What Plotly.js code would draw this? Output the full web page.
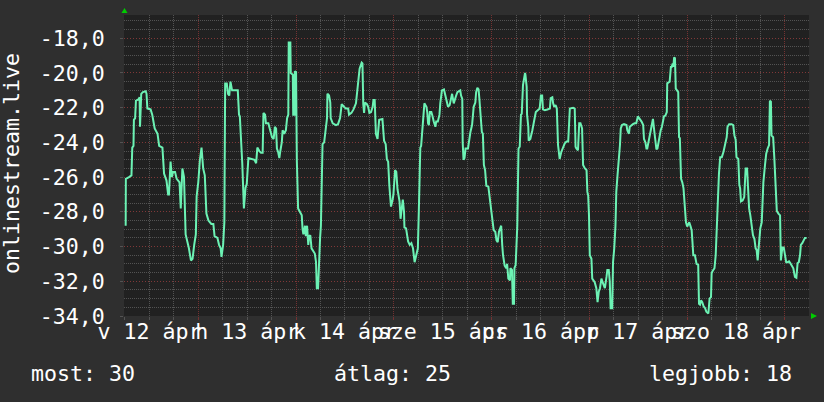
<!DOCTYPE html>
<html>
<head>
<meta charset="utf-8">
<script src="https://cdn.plot.ly/plotly-3.0.1.min.js"></script>
<style>
html,body{margin:0;padding:0;background:#2f2f2f;}
#chart{width:824px;height:402px;}
</style>
</head>
<body>
<div id="chart"></div>
<script>
// hours relative to midnight 12->13 April
const hours = [
-17.82,-17.78,-17.0,-16.4,-16.2,-15.9,-15.8,-15.5,-15.3,-14.6,
-14.4,-14.3,-14.0,-13.6,-12.9,-12.7,-12.5,-11.7,-11.3,-10.7,
-10.0,-9.6,-8.8,-8.4,-7.8,-7.4,-7.2,-6.8,-6.5,-6.2,
-5.7,-5.3,-4.6,-4.3,-3.9,-3.5,-3.1,-2.3,-1.8,-1.4,
-1.0,-0.6,-0.4,0.0,0.4,0.8,1.2,1.6,2.0,2.5,
3.2,3.7,4.0,4.7,5.1,5.5,5.7,6.1,6.4,6.6,
7.0,7.3,7.6,7.9,8.3,9.7,10.0,10.2,10.8,11.2,
11.6,11.9,12.3,13.8,14.2,14.5,15.0,
15.4,15.8,16.0,16.4,16.6,17.2,17.7,18.1,18.5,18.8,
19.1,19.3,19.6,19.9,20.1,20.5,20.7,21.1,21.5,21.8,
22.1,22.2,22.6,22.7,23.2,23.3,23.6,23.7,24.0,24.1,
24.2,24.5,25.0,25.4,25.6,25.8,26.2,26.4,26.7,27.0,
27.2,27.5,27.8,28.3,28.6,28.9,29.1,29.4,29.7,29.9,
30.1,30.3,30.5,30.9,31.3,31.6,31.7,32.1,32.4,32.5,
33.0,33.8,34.3,34.8,35.2,35.7,36.2,36.8,37.0,37.6,
38.1,38.7,38.9,39.3,39.6,40.1,40.3,40.5,40.7,40.9,
41.4,41.7,42.0,42.4,42.8,43.0,43.3,43.6,44.0,44.4,
45.2,45.6,46.0,46.3,46.6,46.9,47.3,47.7,47.9,48.3,
48.6,48.9,
49.4,49.65,50.0,50.2,50.5,50.6,51.0,51.5,51.9,52.3,
52.7,53.1,53.5,53.9,54.15,54.5,54.7,54.9,55.1,55.4,
55.5,56.0,56.2,56.4,56.6,56.85,57.2,57.4,57.6,57.8,
58.2,58.4,58.8,59.2,59.4,59.8,60.3,60.6,60.9,61.3,
61.7,62.1,62.3,62.7,62.9,63.3,63.6,64.0,64.3,64.5,
64.8,64.9,65.1,65.35,65.6,66.2,66.4,66.8,67.2,67.4,
67.6,68.0,68.2,68.5,68.8,69.0,69.3,69.6,69.85,70.1,
70.4,70.7,71.2,71.5,71.9,72.1,72.5,72.9,73.2,73.5,
73.8,74.1,74.35,74.6,74.8,75.2,75.6,75.8,76.1,76.5,
76.6,77.0,77.2,77.5,77.6,77.9,78.1,78.3,78.6,78.9,
79.2,79.4,79.7,79.9,80.2,80.3,80.6,80.7,81.0,81.1,
81.5,82.0,82.3,82.6,
82.85,83.25,83.8,84.1,84.4,84.6,85.05,85.7,86.3,86.5,
86.9,87.1,87.35,87.7,88.0,88.3,88.7,89.1,89.55,89.95,
90.4,90.8,91.2,92.0,92.4,92.6,92.8,93.2,93.5,93.8,
94.2,94.45,94.9,95.3,95.5,95.7,95.9,96.1,96.5,96.7,
97.3,97.7,98.0,98.3,98.6,98.95,99.4,99.8,100.2,100.4,
100.75,101.0,101.2,101.6,101.8,102.1,102.4,102.6,102.9,103.2,
103.5,103.7,104.0,104.5,105.1,105.3,105.7,105.9,106.3,106.7,
107.1,107.5,107.9,108.4,108.8,109.2,109.4,109.75,110.0,110.2,
110.6,110.8,111.05,111.4,111.6,111.9,112.2,112.45,112.7,113.0,
113.3,113.5,113.8,114.1,114.3,114.65,115.0,115.1,115.5,115.7,
116.0,116.2,
116.45,116.6,116.8,117.0,117.2,117.4,117.8,118.0,118.2,118.5,
118.8,119.1,119.5,119.7,120.0,120.3,120.5,120.85,121.1,121.3,
121.5,121.9,122.3,122.7,122.9,123.15,123.4,123.7,124.05,124.4,
124.7,125.2,125.5,125.85,126.0,126.25,126.7,127.0,127.2,127.5,
127.8,128.1,128.5,128.9,129.1,129.45,129.7,129.9,130.3,130.9,
131.3,131.6,131.9,132.1,132.55,132.8,133.0,133.2,133.6,134.0,
134.35,134.7,134.9,135.2,135.5,135.8,136.15,136.5,136.8,137.05,
137.3,137.6,137.95,138.3,138.7,139.1,139.4,139.75,140.1,140.3,
140.55,140.7,141.1,141.4,141.7,142.0,142.4,142.8,143.0,143.35,
143.7,144.0,144.3,144.65,145.0,145.3,145.6,146.05,146.45,146.8,
147.1,147.4,147.7,147.9,148.25,148.6,148.9,149.3
];
const values = [
-28.8,-26.1,-26.0,-25.9,-24.3,-24.2,-22.7,-22.6,-21.6,-21.5,
-21.4,-23.1,-21.2,-21.1,-21.05,-21.2,-22.05,-22.1,-22.4,-23.2,
-23.5,-24.2,-24.3,-25.8,-26.2,-27.0,-27.0,-25.1,-26.0,-25.7,
-25.7,-26.1,-26.3,-27.8,-25.5,-26.0,-29.3,-30.1,-30.8,-30.7,
-29.9,-29.3,-27.1,-26.3,-25.0,-24.3,-25.5,-25.9,-28.1,-28.5,
-28.7,-28.7,-29.4,-29.5,-29.9,-30.1,-30.6,-29.9,-28.6,-20.6,
-20.6,-21.2,-21.3,-20.5,-21.0,-21.0,-22.4,-22.5,-25.2,-27.8,
-26.6,-26.4,-24.9,-25.0,-25.2,-24.3,-24.5,
-24.6,-24.6,-22.3,-22.4,-22.9,-22.9,-23.4,-23.7,-23.8,-23.1,
-23.2,-24.35,-24.55,-24.9,-24.55,-24.0,-23.3,-23.5,-23.3,-22.6,
-22.4,-18.25,-18.25,-20.0,-20.1,-22.4,-22.4,-19.9,-19.95,-22.4,
-25.1,-27.8,-28.0,-28.2,-29.0,-29.3,-28.8,-29.4,-28.8,-29.9,
-29.4,-29.35,-30.1,-30.3,-30.4,-30.9,-32.4,-32.4,-30.3,-29.5,
-28.8,-27.0,-24.1,-24.0,-23.3,-22.6,-21.2,-21.3,-21.7,-22.6,
-22.9,-23.0,-22.95,-22.6,-21.8,-21.9,-22.05,-22.05,-22.4,-22.3,
-22.1,-21.75,-21.3,-20.3,-19.75,-19.4,-19.45,-21.8,-22.3,-21.7,
-21.8,-21.95,-22.3,-22.25,-21.95,-21.55,-21.55,-23.5,-23.8,-22.7,
-22.65,-23.9,-24.1,-25.0,-25.1,-26.5,-27.7,-27.3,-27.0,-25.6,
-25.7,-26.7,
-27.4,-28.4,-27.4,-27.3,-28.0,-28.9,-28.95,-29.7,-29.9,-29.8,
-30.1,-30.9,-30.5,-30.1,-27.8,-24.3,-24.2,-23.5,-23.4,-22.4,
-21.75,-21.95,-22.25,-22.9,-23.0,-22.25,-22.25,-22.4,-22.7,-22.8,
-23.1,-22.8,-22.8,-22.4,-21.75,-21.0,-20.95,-21.3,-21.7,-21.95,
-21.85,-21.4,-21.2,-21.75,-21.55,-21.3,-21.1,-21.05,-21.0,-21.3,
-21.5,-24.0,-25.0,-24.9,-24.35,-24.35,-23.9,-23.4,-23.0,-22.35,
-21.95,-21.7,-21.1,-20.85,-20.95,-21.5,-22.25,-23.4,-23.5,-25.3,
-25.6,-26.5,-26.55,-27.15,-28.0,-28.2,-29.05,-29.15,-29.65,-29.75,
-29.15,-28.95,-28.8,-29.9,-30.5,-31.1,-31.25,-31.0,-31.85,-31.95,
-31.25,-31.35,-33.3,-33.3,-31.25,-31.05,-29.7,-28.8,-24.35,-24.25,
-22.4,-22.35,-20.7,-20.4,-20.0,-20.1,-20.8,-22.4,-23.1,-23.9,
-23.8,-23.3,-22.8,-22.55,
-22.25,-22.15,-22.05,-21.3,-21.3,-22.1,-22.15,-22.1,-22.05,-21.45,
-21.4,-21.75,-21.95,-21.85,-22.05,-24.15,-24.95,-24.55,-24.25,-24.05,
-23.95,-23.95,-22.05,-22.0,-22.05,-24.25,-24.35,-24.45,-22.9,-22.9,
-23.2,-25.3,-25.5,-25.6,-26.85,-27.05,-28.2,-30.5,-30.7,-31.85,
-32.05,-32.4,-33.2,-32.6,-32.4,-31.85,-32.15,-32.4,-31.75,-31.35,
-31.35,-32.0,-33.55,-33.55,-30.9,-30.1,-28.8,-26.85,-25.9,-25.1,
-24.15,-23.2,-23.0,-22.95,-23.0,-23.3,-23.5,-23.1,-23.0,-22.95,
-22.9,-22.9,-22.5,-22.65,-22.8,-23.0,-23.8,-24.0,-24.35,-24.35,
-23.8,-23.6,-23.3,-22.8,-22.65,-23.3,-23.9,-24.4,-24.35,-23.9,
-23.6,-23.3,-23.1,-22.8,-22.5,-22.45,-22.25,-20.6,-20.5,-20.5,
-19.65,-19.65,
-19.45,-19.65,-19.1,-19.15,-20.9,-21.0,-21.1,-23.7,-23.75,-26.1,
-26.3,-26.65,-28.2,-28.6,-28.85,-28.65,-28.6,-28.85,-29.05,-29.75,
-30.5,-30.5,-31.0,-31.05,-33.3,-33.35,-33.1,-33.2,-33.45,-33.55,
-33.75,-33.85,-33.0,-32.9,-31.55,-31.4,-31.25,-30.5,-29.15,-27.05,
-25.8,-24.85,-24.85,-24.55,-24.35,-23.85,-23.7,-23.1,-22.95,-22.95,
-23.0,-23.6,-23.85,-24.85,-24.95,-26.45,-26.65,-27.4,-27.35,-27.15,
-25.5,-25.5,-26.85,-27.8,-28.2,-28.7,-29.35,-29.55,-30.1,-30.2,
-30.8,-29.9,-28.95,-28.6,-26.3,-25.3,-24.65,-24.35,-24.15,-21.6,
-21.65,-23.6,-23.7,-24.95,-26.45,-27.95,-28.1,-28.2,-30.8,-30.05,
-30.05,-30.5,-30.9,-30.9,-30.85,-30.95,-31.05,-31.25,-31.75,-31.8,
-30.95,-30.9,-30.5,-29.9,-29.8,-29.6,-29.5,-29.5
];
const dayLabelHours = [-12, 12, 36, 60, 84, 108, 132];
const dayLabels = ['v 12 ápr', 'h 13 ápr', 'k 14 ápr', 'sze 15 ápr', 'cs 16 ápr', 'p 17 ápr', 'szo 18 ápr'];
const midnightHours = [0, 24, 48, 72, 96, 120, 144];
const sixHourMarks = [-18, -12, -6, 6, 12, 18, 30, 36, 42, 54, 60, 66, 78, 84, 90, 102, 108, 114, 126, 132, 138];
const yTickVals = [-34, -32, -30, -28, -26, -24, -22, -20, -18];
const yTickText = ['-34,0', '-32,0', '-30,0', '-28,0', '-26,0', '-24,0', '-22,0', '-20,0', '-18,0'];
const yMinorVals = [-33.5, -33, -32.5, -31.5, -31, -30.5, -29.5, -29, -28.5, -27.5, -27, -26.5,
  -25.5, -25, -24.5, -23.5, -23, -22.5, -21.5, -21, -20.5, -19.5, -19, -18.5, -17.5, -17];
const seriesName = 'onlinestream.live';
const summaryLabels = ['most: 30', 'átlag: 25', 'legjobb: 18'];

const FONT = {family: '"DejaVu Sans Mono", monospace', size: 21.6, color: '#ffffff'};
const XRANGE = [-18.23, 149.9];
const RED = '#803838';
const GRAY = '#535353';
const DOT = '1px,1px';

const traces = [
  {x: hours, y: values, type: 'scatter', mode: 'lines', name: seriesName,
   line: {color: '#6cf2b4', width: 2}, hoverinfo: 'skip', xaxis: 'x', yaxis: 'y'},
  {x: [], y: [], type: 'scatter', mode: 'lines', xaxis: 'x2', yaxis: 'y', hoverinfo: 'skip', showlegend: false}
];

const layout = {
  width: 824, height: 402,
  paper_bgcolor: '#2f2f2f', plot_bgcolor: '#212121',
  margin: {l: 124, r: 15, t: 15, b: 86, pad: 0},
  showlegend: false,
  font: FONT,
  xaxis: {
    range: XRANGE, tickmode: 'array', tickvals: midnightHours, showticklabels: false,
    showgrid: true, gridcolor: '#733232', griddash: DOT, gridwidth: 1, zeroline: false, showline: false,
    ticks: 'outside', ticklen: 3, tickcolor: '#733232', fixedrange: true,
    minor: {tickmode: 'array', tickvals: sixHourMarks, showgrid: true, gridcolor: GRAY, griddash: DOT, gridwidth: 1,
            ticks: 'outside', ticklen: 3, tickcolor: GRAY}
  },
  xaxis2: {
    overlaying: 'x', anchor: 'y', side: 'bottom', range: XRANGE,
    tickmode: 'array', tickvals: dayLabelHours, ticktext: dayLabels, tickangle: 0,
    showgrid: false, zeroline: false, showline: false, ticks: '', tickfont: FONT,
    ticklabelstandoff: 0, fixedrange: true
  },
  yaxis: {
    range: [-34, -16.66], tickmode: 'array', tickvals: yTickVals, ticktext: yTickText,
    showgrid: true, gridcolor: RED, griddash: '1px,2px', gridwidth: 1, zeroline: false, showline: false,
    ticks: 'outside', ticklen: 3, tickcolor: GRAY, tickfont: FONT, ticklabelstandoff: 11, fixedrange: true,
    minor: {tickmode: 'array', tickvals: yMinorVals, showgrid: true, gridcolor: GRAY, griddash: DOT, gridwidth: 1}
  },
  annotations: [
    {text: seriesName, textangle: -90, xref: 'paper', yref: 'paper', x: -0.1635, y: 0.505,
     xanchor: 'center', yanchor: 'middle', showarrow: false, font: FONT},
    {text: summaryLabels[0], xref: 'paper', yref: 'paper', x: -0.138, y: -0.191,
     xanchor: 'left', yanchor: 'middle', showarrow: false, font: FONT},
    {text: summaryLabels[1], xref: 'paper', yref: 'paper', x: 0.304, y: -0.191,
     xanchor: 'left', yanchor: 'middle', showarrow: false, font: FONT},
    {text: summaryLabels[2], xref: 'paper', yref: 'paper', x: 0.764, y: -0.191,
     xanchor: 'left', yanchor: 'middle', showarrow: false, font: FONT}
  ],
  shapes: [
    {type: 'path', xref: 'paper', yref: 'paper', path: 'M -0.00365 1.0066 L 0.00511 1.0066 L 0.00073 1.0233 Z',
     fillcolor: '#00cc00', line: {width: 0}},
    {type: 'path', xref: 'paper', yref: 'paper', path: 'M 1.0029 0.00997 L 1.0029 -0.00997 L 1.0117 0 Z',
     fillcolor: '#00cc00', line: {width: 0}}
  ]
};

Plotly.newPlot('chart', traces, layout, {displayModeBar: false, staticPlot: true});
</script>
</body>
</html>
